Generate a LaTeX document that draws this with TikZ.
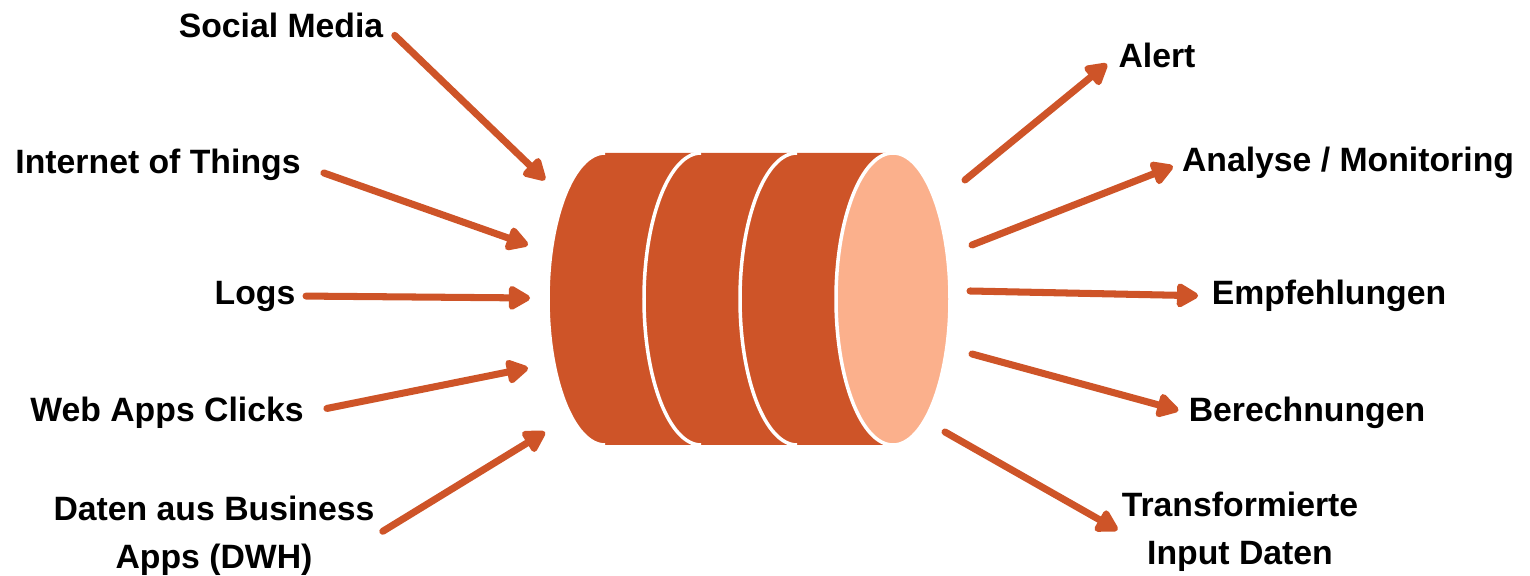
\documentclass[tikz,border=0pt]{standalone}
\usepackage{fontspec}
\setmainfont{Liberation Sans}
\usetikzlibrary{arrows.meta}
\definecolor{rust}{RGB}{206,84,40}
\definecolor{peach}{RGB}{251,176,140}
\tikzset{
  lbl/.style={font=\fontsize{9.6}{13.7}\selectfont\bfseries, align=center, inner sep=0pt},
  flow/.style={rust, line width=2pt, line cap=round, -{Triangle[length=7pt,width=7.5pt,round]}}
}
\begin{document}
\begin{tikzpicture}[x=0.01cm, y=0.01cm]
  \useasboundingbox (0,0) rectangle (1530,576);
  \foreach \c in {605,701,797} {
    \fill[rust] (\c,423) arc (90:270:57 and 146) -- (\c+96,131) -- (\c+96,423) -- cycle;
    \draw[white, line width=1pt] (\c,423) arc (90:270:57 and 146);
  }
  \filldraw[fill=peach, draw=white, line width=1pt] (893,277) ellipse (57 and 146);

  \node[lbl] (sm) at (281,551) {Social Media};
  \node[lbl] (iot) at (158,411) {Internet of Things};
  \node[lbl] (logs) at (255,280) {Logs};
  \node[lbl] (web) at (167,163) {Web Apps Clicks};
  \node[lbl] (dwh) at (214,40) {Daten aus Business\\Apps (DWH)};

  \node[lbl] (alert) at (1157,521) {Alert};
  \node[lbl] (ana) at (1348,413) {Analyse / Monitoring};
  \node[lbl] (emp) at (1329,280) {Empfehlungen};
  \node[lbl] (ber) at (1307,163) {Berechnungen};
  \node[lbl] (trans) at (1240,44) {Transformierte\\Input Daten};

  \coordinate (in1) at (545,396);
  \coordinate (in2) at (528,331);
  \coordinate (in3) at (530,278);
  \coordinate (in4) at (528,208);
  \coordinate (in5) at (545,144);
  \coordinate (out1) at (965,396);
  \coordinate (out2) at (972,331);
  \coordinate (out3) at (970,285);
  \coordinate (out4) at (972,222);
  \coordinate (out5) at (945,144);

  \foreach \src/\dst/\gap in {sm/in1/0.15cm, iot/in2/0.24cm, logs/in3/0.10cm, web/in4/0.23cm, dwh/in5/0.09cm}
    \draw[flow, shorten <=\gap] (\src.east) -- (\dst);
  \foreach \src/\dst/\gap in {out1/alert/0.14cm, out2/ana/0.09cm, out3/emp/0.13cm, out4/ber/0.10cm, out5/trans/0.04cm}
    \draw[flow, shorten >=\gap] (\src) -- (\dst.west);
\end{tikzpicture}
\end{document}
